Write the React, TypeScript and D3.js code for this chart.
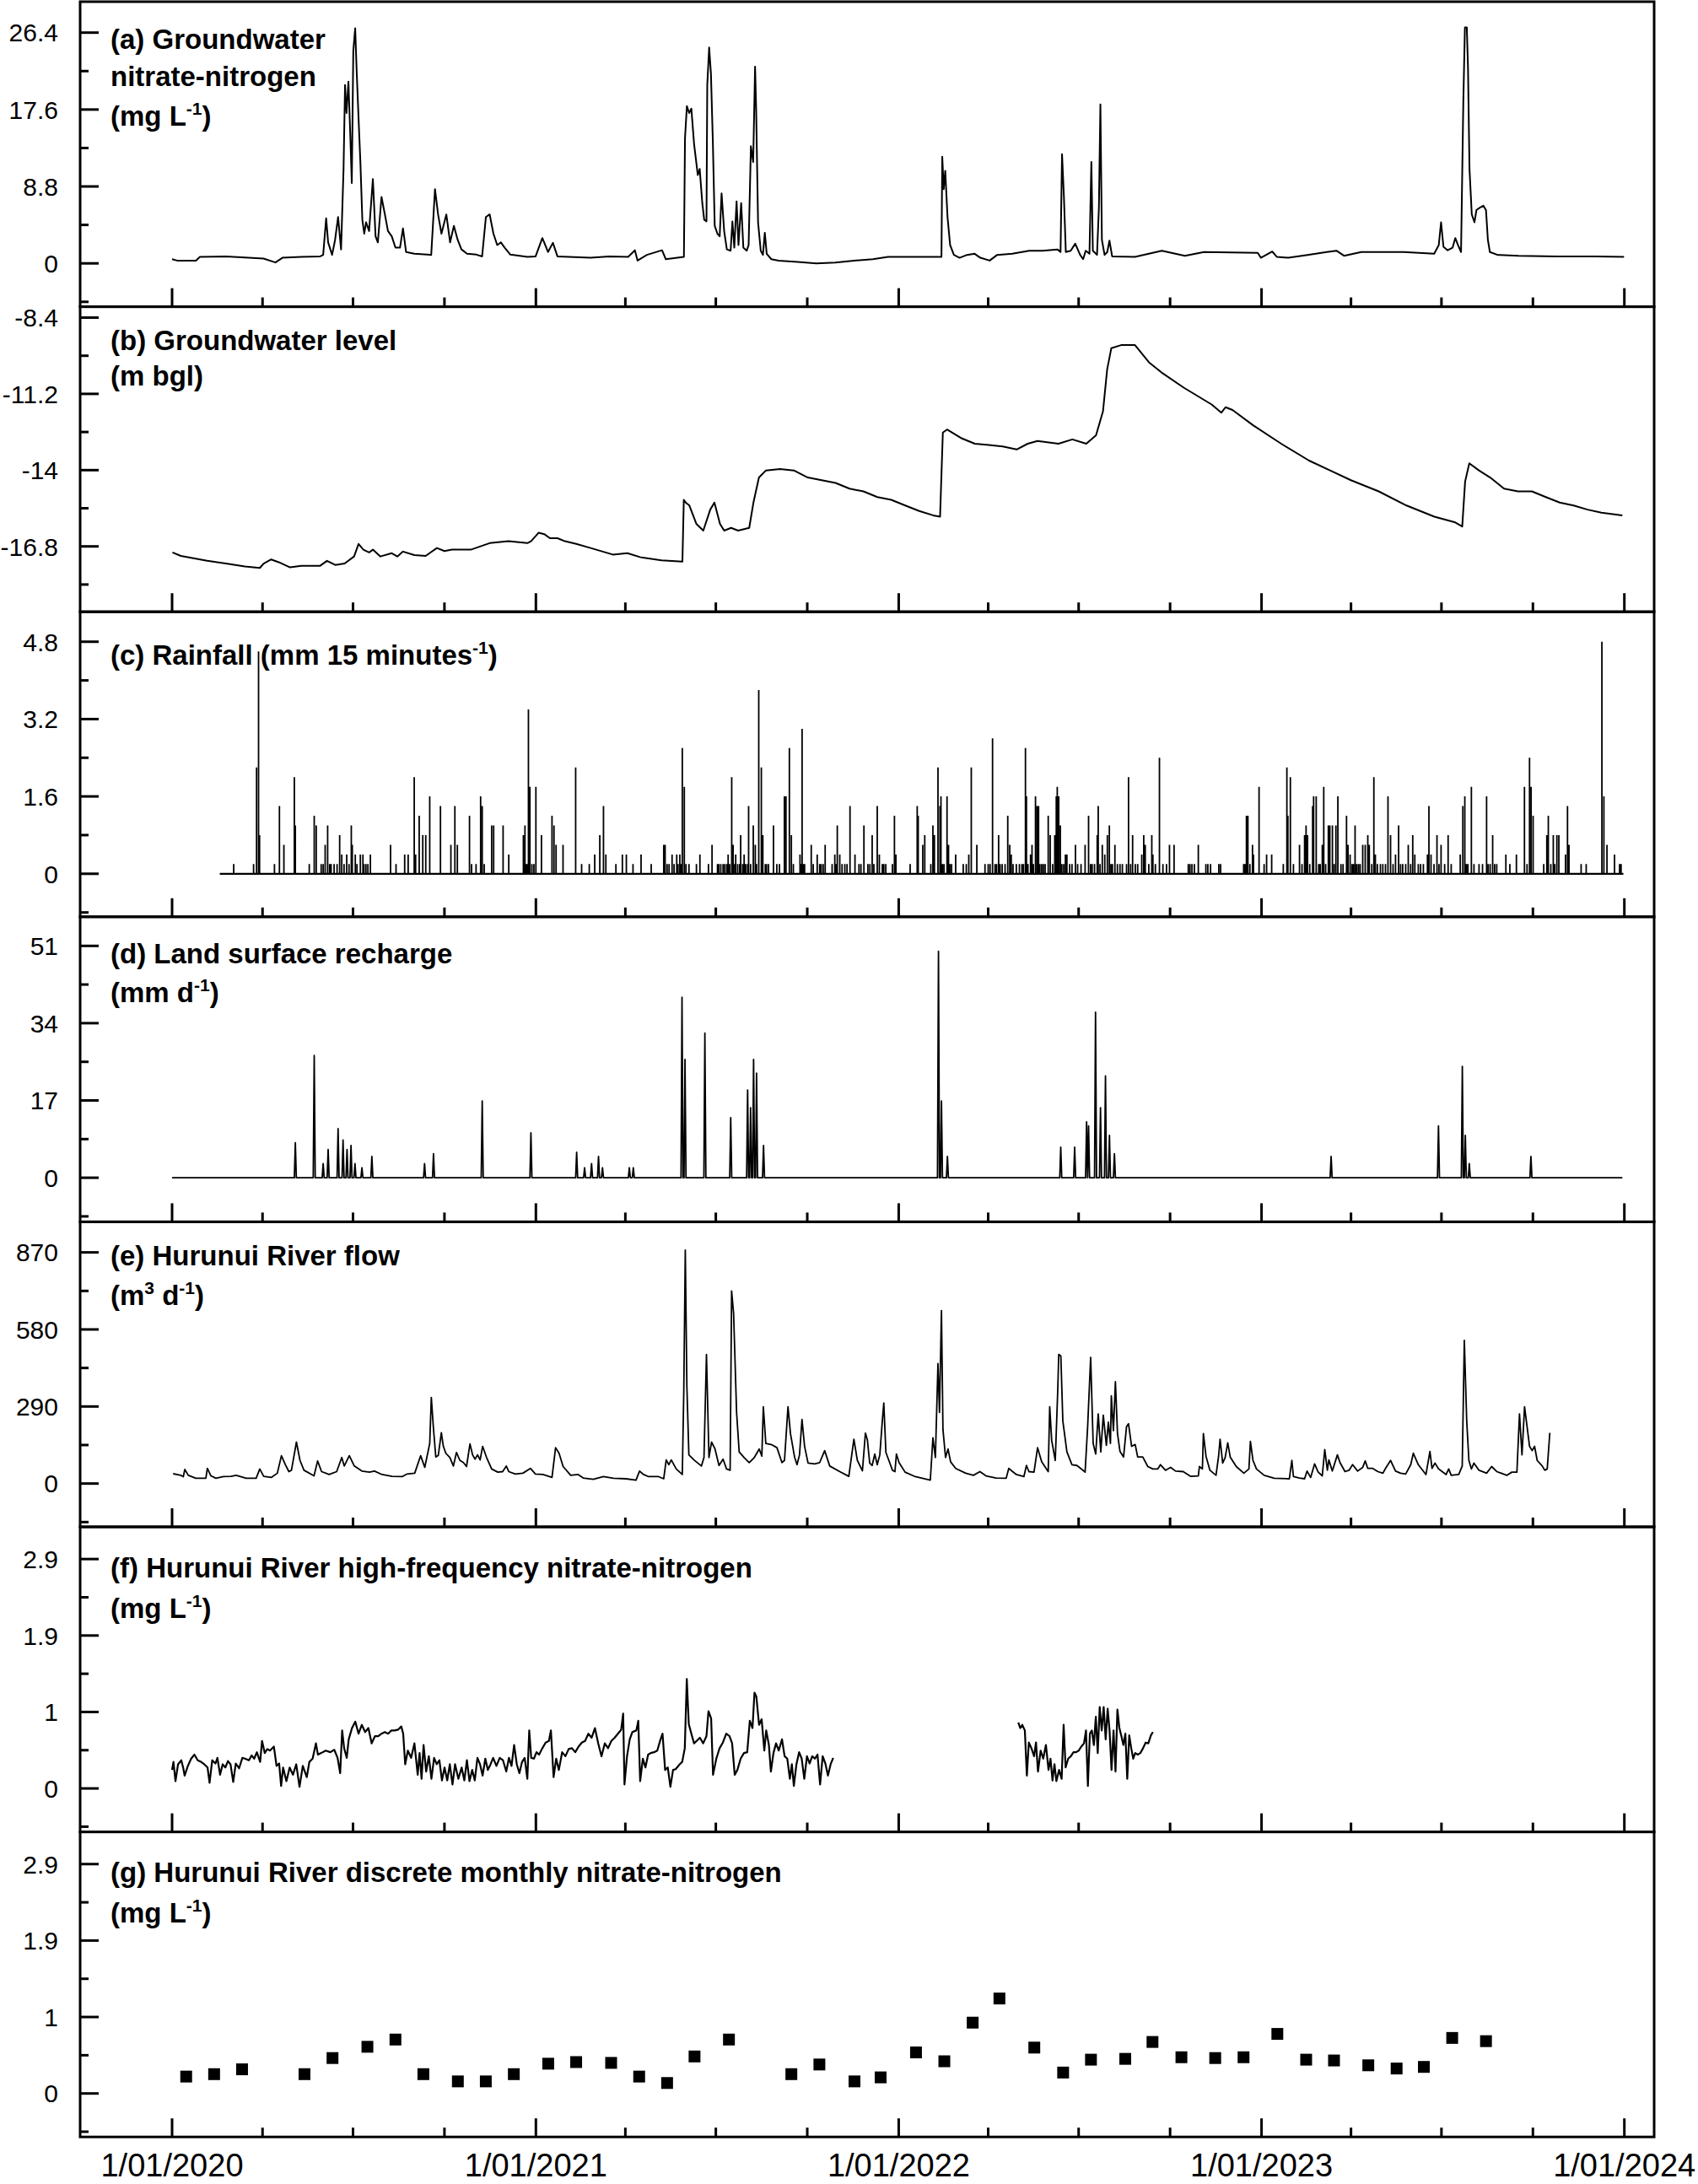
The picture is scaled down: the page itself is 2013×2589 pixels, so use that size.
import React from 'react';
import * as d3 from 'd3';

type P = [number, number];
const START = Date.UTC(2020, 0, 1);
const DAY = 86400000;
const dt = (d: number) => new Date(START + d * DAY);

// ---------------- tick labels ----------------
const xYears = [2020, 2021, 2022, 2023, 2024];
const xTickLabels = ['1/01/2020', '1/01/2021', '1/01/2022', '1/01/2023', '1/01/2024'];

const ticksA = [0, 8.8, 17.6, 26.4];
const labelsA = ['0', '8.8', '17.6', '26.4'];
const ticksB = [-16.8, -14, -11.2, -8.4];
const labelsB = ['-16.8', '-14', '-11.2', '-8.4'];
const ticksC = [0, 1.6, 3.2, 4.8];
const labelsC = ['0', '1.6', '3.2', '4.8'];
const ticksD = [0, 17, 34, 51];
const labelsD = ['0', '17', '34', '51'];
const ticksE = [0, 290, 580, 870];
const labelsE = ['0', '290', '580', '870'];
const ticksFG = [0, 0.95, 1.9, 2.85];
const labelsFG = ['0', '1', '1.9', '2.9'];

// ---------------- data: [days since 1/01/2020, value] ----------------
// (a) groundwater nitrate-nitrogen (mg/L)
const gwNitrate: P[] = [[0,0.48],[5,0.32],[24,0.32],[28,0.74],[54,0.8],[77,0.64],[92,0.55],[104,0.1],[111,0.64],[130,0.74],[149,0.8],[152,0.97],[155,5.15],[157,2.4],[161,0.97],[164,2.7],[167,5.3],[170,1.6],[172.5,10.8],[174,20.4],[175.5,17.2],[177.4,20.8],[179.3,14.6],[180.8,9.2],[182.3,24.3],[184.2,26.9],[185.7,22],[187.6,16.6],[189.5,11.4],[191.4,5],[193.3,3.4],[195.2,4.7],[198.2,3.7],[202,9.65],[204.7,3.1],[207,2.4],[210.7,7.6],[214.1,5.6],[217.2,3.7],[221,3.1],[224.7,1.8],[229.3,1.8],[232.3,4],[235.4,1.3],[243.7,1.1],[260.7,0.97],[264.5,8.5],[267.6,5.6],[271,3.4],[275.9,5.6],[279.7,2.4],[283.5,4.3],[287.3,2.7],[291.1,1.6],[296.7,1.1],[306.2,1],[311.9,0.8],[315.7,5.3],[319.5,5.6],[323.3,3.4],[327.1,2.1],[330.8,2.4],[334.6,1.8],[340.3,1],[357.4,0.74],[365.7,0.8],[372.5,2.9],[378.2,1.3],[383.1,2.35],[387.7,0.8],[421,0.64],[439.8,0.8],[458.8,0.74],[465.6,1.5],[468.3,0.32],[477.7,0.97],[492.9,1.5],[496.7,0.48],[514.9,0.74],[516,14.3],[517.9,18],[520.2,17.2],[522.4,17.7],[525.1,13.7],[528.9,10.1],[530.8,10.8],[533.4,6.9],[535.3,5],[537.6,4.8],[538.4,20.4],[540.3,24.7],[542.1,21.7],[544,14],[545.9,4.3],[548.6,3.4],[550.9,3.1],[552.8,8],[555.4,3.7],[558.1,1.6],[561.9,1.45],[563.7,4.8],[565.6,1.8],[567.9,7.1],[569.8,2.1],[572.5,6.9],[574.7,1.8],[578.1,1.45],[580,2.1],[582.3,13.4],[584.6,11.6],[586.5,22.5],[587.6,17.5],[589.5,4.7],[592.2,1.45],[594.4,0.97],[596.3,3.5],[598.2,1.1],[602.8,0.48],[610.3,0.32],[629.3,0.16],[648.2,0],[667.2,0.1],[686.1,0.32],[705.1,0.48],[720.2,0.74],[743,0.74],[774,0.74],[774.8,12.2],[776.3,8.5],[777.8,10.6],[780.1,5.3],[782.7,2.1],[786.5,0.97],[792.2,0.64],[799.8,0.97],[807.4,1.1],[813.1,0.64],[822.5,0.32],[830.1,0.97],[845.3,1.1],[862.3,1.45],[875.6,1.45],[890.7,1.6],[893.8,1.3],[895.3,12.5],[897.2,7.6],[899.1,1.3],[904,1.45],[908.6,2.25],[913.5,0.97],[916.5,0.48],[919.1,1.45],[922.9,1.1],[924.8,11.6],[926.3,1.45],[930.5,0.97],[932.4,6.4],[933.9,18.2],[935.4,2.7],[938.1,0.97],[940.8,1.3],[943,2.6],[945.7,0.8],[968.7,0.74],[995.7,1.45],[1018.9,0.87],[1038.2,1.3],[1092.2,1.2],[1095.3,0.64],[1106.8,1.35],[1111.5,0.74],[1123,0.64],[1142.3,0.97],[1161.6,1.3],[1171.3,1.45],[1179,0.87],[1196.4,1.3],[1238.8,1.3],[1269.7,1.1],[1274.3,2.1],[1276.6,4.7],[1279,1.9],[1283.2,1.5],[1288.2,1.8],[1290.9,2.9],[1293.6,2.1],[1296.7,1.3],[1299,18.5],[1300.6,27],[1302.5,27],[1303.7,22.4],[1305.2,10.8],[1307.5,5.6],[1310.2,4.7],[1312.2,6.1],[1316,6.4],[1319.1,6.6],[1321.8,6.1],[1323.7,2.7],[1325.7,1.3],[1333.4,0.97],[1354.6,0.87],[1393.2,0.8],[1431.8,0.8],[1460.7,0.74]];

// (b) groundwater level (m bgl)
const gwLevel: P[] = [[0.4,-17.02],[8.8,-17.15],[35.3,-17.33],[54.2,-17.43],[73.2,-17.54],[88.3,-17.59],[92.1,-17.43],[99.7,-17.28],[107.3,-17.38],[118.7,-17.57],[130,-17.51],[149,-17.51],[155.8,-17.33],[164.1,-17.48],[173.6,-17.43],[183.1,-17.17],[187.6,-16.71],[192.5,-16.92],[198.2,-17.02],[202,-16.92],[209.6,-17.17],[221,-17.05],[226.6,-17.17],[232.3,-16.99],[243.7,-17.12],[255.1,-17.15],[266.4,-16.86],[274,-16.97],[281.6,-16.92],[300.5,-16.92],[319.5,-16.68],[338.4,-16.61],[357.4,-16.68],[361.1,-16.61],[368.7,-16.3],[374.4,-16.35],[380.1,-16.5],[387.7,-16.5],[395.2,-16.61],[406.6,-16.71],[421,-16.86],[443.3,-17.1],[458,-17.05],[471.4,-17.2],[492.4,-17.31],[513.4,-17.36],[514.8,-15.09],[517,-15.2],[520.4,-15.3],[527.4,-15.97],[534.4,-16.22],[541.4,-15.45],[545.6,-15.19],[551.2,-15.97],[555.4,-16.22],[562.4,-16.12],[569.4,-16.22],[580.6,-16.12],[584.8,-15.2],[590.4,-14.27],[597.4,-14.01],[611.5,-13.96],[625.5,-14.01],[639.5,-14.27],[653.5,-14.37],[667.5,-14.47],[681.5,-14.68],[695.5,-14.78],[709.5,-14.99],[723.5,-15.09],[737.6,-15.3],[751.6,-15.5],[765.6,-15.66],[772.6,-15.71],[775.4,-12.62],[779.6,-12.51],[793.6,-12.82],[807.6,-13.03],[821.6,-13.08],[835.6,-13.13],[849.6,-13.24],[860.8,-13.03],[870.6,-12.93],[891.7,-13.03],[905.7,-12.87],[919.7,-13.03],[929.5,-12.72],[936.5,-11.84],[940.7,-10.3],[944.9,-9.52],[954.7,-9.41],[968.7,-9.41],[982.7,-10.04],[996.7,-10.45],[1017.7,-10.97],[1045.8,-11.59],[1055.6,-11.89],[1059.8,-11.69],[1066.8,-11.79],[1087.8,-12.36],[1115.8,-13.03],[1143.8,-13.65],[1164.9,-14.01],[1185.9,-14.37],[1213.9,-14.78],[1241.9,-15.3],[1269.9,-15.71],[1290.9,-15.92],[1297.9,-16.07],[1300.8,-14.42],[1305,-13.75],[1314.7,-14.01],[1326,-14.27],[1340,-14.68],[1354,-14.78],[1368,-14.78],[1382,-14.99],[1396,-15.19],[1410,-15.3],[1424,-15.45],[1438,-15.56],[1459,-15.66]];

// (c) rainfall (mm per 15 min)
const rainStart = 48;
const rainEnd = 1460;
const rainfall: P[] = [[62,0.2],[82,0.2],[85,2.2],[87,4.6],[88,0.8],[103,0.2],[108,1.4],[112.5,0.6],[123,2.0],[124,1.0],[138,0.2],[143,1.2],[145,1.0],[150,0.2],[152,0.2],[154,0.6],[156.5,1.0],[158.5,0.2],[160,0.2],[163,0.2],[166,0.2],[168.6,0.8],[170.7,0.4],[173,0.2],[175.7,0.4],[178,0.2],[180.3,1.0],[181.3,0.6],[184.3,0.4],[186,0.2],[189.4,0.4],[192,0.4],[193,0.2],[195,0.2],[197,0.2],[199.5,0.4],[219.8,0.6],[225.3,0.2],[234,0.4],[237.5,0.4],[243.6,2.0],[245,0.4],[248.6,1.2],[252.2,0.8],[255.2,0.8],[259.2,1.6],[270,1.4],[280.5,0.6],[284.5,1.4],[287,0.6],[299.2,1.2],[301.3,0.2],[305.8,0.2],[310.4,1.6],[312,1.4],[314,0.2],[321.5,1.0],[323.5,1.0],[333,1.0],[338.7,0.4],[353.4,0.8],[354,0.2],[355,1.0],[356,0.2],[357,0.2],[358.5,3.4],[359.5,0.2],[360,1.8],[362,0.2],[364,0.2],[366,1.8],[371.6,0.8],[382.2,1.2],[384.2,1.0],[386.3,0.6],[393.3,0.6],[406,2.2],[412,0.2],[419.7,0.2],[425.2,0.4],[430.3,0.8],[434,1.4],[436.4,0.4],[446.5,0.2],[453,0.4],[457,0.4],[463.7,0.2],[471.8,0.4],[482,0.2],[494.6,0.6],[496,0.6],[498,0.2],[500,0.2],[503,0.4],[505,0.2],[507.7,0.4],[509,0.2],[510.8,0.4],[512,0.2],[513.3,2.6],[515.3,1.8],[517,0.2],[520,0.2],[527.5,0.2],[531,0.4],[539.6,0.2],[543.2,0.6],[548.7,0.2],[550,0.2],[552,0.2],[554.3,0.2],[556,0.2],[558,0.2],[559.4,0.4],[561,0.2],[563,2.0],[564.4,0.6],[566,0.2],[567,0.4],[569,0.2],[571,0.2],[572,0.8],[574,0.2],[575.5,0.4],[577,0.2],[579,0.2],[580,1.4],[582,0.2],[584.7,1.0],[586.7,0.6],[588,0.2],[590.2,3.8],[592.8,2.2],[594.3,0.8],[596.8,0.2],[598,0.2],[600,0.2],[605,1.0],[608.4,0.2],[611,0.2],[616,1.6],[617.6,1.6],[621,2.6],[623,0.8],[625,0.2],[631.7,0.4],[632.5,0.2],[633.8,3.0],[635,0.2],[636.3,0.2],[643,0.6],[645,0.2],[649,0.4],[651.5,0.2],[653,0.2],[655,0.2],[657,0.6],[664,0.2],[666.7,0.4],[668,0.2],[669.2,1.0],[671.7,0.4],[674,0.2],[676.8,0.2],[679,0.2],[682,1.4],[687,0.4],[691,0.2],[693,0.2],[696,1.0],[700,0.2],[702,0.2],[704.3,0.8],[706,0.2],[709.4,1.4],[711.5,0.4],[714.5,0.2],[716,0.2],[718,0.2],[724.7,0.2],[726.7,1.2],[728.2,0.4],[742.5,0.2],[749.6,1.4],[750.6,1.2],[755.2,0.6],[757.2,0.8],[763.3,0.2],[765.4,1.0],[766.9,0.8],[770.5,2.2],[772.5,1.4],[773.5,1.6],[775,0.2],[776.6,0.2],[779.6,1.6],[781.1,0.6],[782.5,0.2],[784.2,0.2],[788.3,0.4],[795.9,0.2],[799,0.2],[801.5,0.4],[804,2.2],[809.6,0.6],[817.8,0.2],[821,0.2],[822.9,0.2],[825.4,2.8],[827.9,0.2],[829.5,0.2],[831.5,0.8],[833,0.2],[835.1,0.2],[838,0.2],[840.7,1.2],[842.7,0.6],[844.2,0.4],[846,0.2],[849.3,0.2],[852.4,0.2],[854.9,0.2],[856.5,0.2],[858.5,2.6],[859.5,1.6],[861,0.2],[863.6,0.4],[865.1,0.6],[866.5,0.2],[868.6,1.6],[870.2,1.4],[871.7,1.4],[873,0.2],[874.8,0.2],[876.5,0.2],[878.3,0.2],[881.4,1.2],[883.4,0.8],[885.9,0.2],[888,0.8],[889.5,1.6],[890.5,1.8],[892,1.6],[893.6,1.0],[895.1,0.2],[897,0.2],[898.7,0.4],[900.2,0.4],[903,0.2],[905.3,0.2],[908.8,0.6],[911,0.2],[914.4,0.2],[918.5,0.6],[922,1.2],[924,0.2],[925.6,0.2],[928,0.2],[930.7,0.8],[931.7,1.4],[933.5,0.2],[935.8,0.6],[938.3,0.4],[940.9,0.8],[942.9,1.0],[944.5,0.2],[946,0.2],[948.5,0.6],[951,0.2],[953.6,0.2],[956,0.2],[960.2,0.2],[962.2,2.0],[964.3,0.2],[966.3,0.8],[969,0.2],[971.4,0.2],[975.5,0.4],[977.5,0.8],[979,0.6],[982.6,0.2],[985.6,0.8],[986.7,0.4],[989.2,0.2],[993.3,2.4],[996.8,0.2],[1000.4,0.2],[1003.4,0.6],[1008,0.6],[1022.3,0.2],[1024,0.2],[1026,0.2],[1028.4,0.2],[1032.4,0.6],[1040,0.2],[1042,0.2],[1044.7,0.2],[1053,0.2],[1054.8,0.2],[1078,0.2],[1079.5,0.2],[1080.8,1.2],[1082.3,1.2],[1084.3,0.2],[1086.9,0.6],[1087.9,0.4],[1093.5,1.8],[1098.6,0.2],[1101.1,0.4],[1106.2,0.4],[1117.9,0.2],[1121.5,2.2],[1122.5,1.2],[1125,2.0],[1128.1,0.2],[1134.2,0.6],[1136.7,0.2],[1139.3,0.8],[1140.8,1.0],[1142.3,0.8],[1144.5,0.2],[1147.4,1.4],[1148.4,1.6],[1151,1.6],[1153.5,0.2],[1155,0.2],[1157.1,0.6],[1158.6,1.8],[1160.5,0.2],[1163.2,1.0],[1164.7,1.0],[1167.3,1.0],[1169,0.2],[1170.8,1.0],[1172.8,1.6],[1175.9,0.2],[1178,0.2],[1181.5,1.2],[1183,0.6],[1185.1,0.4],[1187,0.2],[1188.5,0.2],[1190.1,1.0],[1191.7,0.2],[1193.5,0.2],[1195.2,0.2],[1197.8,0.6],[1200.3,0.6],[1202.9,0.8],[1204.4,0.6],[1206.9,0.2],[1209,2.0],[1210.5,0.4],[1212.5,0.2],[1215.6,0.2],[1218,0.2],[1220.7,0.2],[1223.2,1.6],[1225.8,0.8],[1228.3,0.2],[1230.8,0.4],[1233.9,1.0],[1235.9,0.2],[1238,0.2],[1241,0.2],[1243.6,0.6],[1246,0.2],[1248.1,0.8],[1250.2,0.4],[1253.7,0.2],[1256,0.2],[1258.8,0.2],[1262.9,0.4],[1264.4,1.4],[1266.5,0.4],[1269.5,0.2],[1272.5,0.8],[1274.5,0.2],[1276.6,0.6],[1280.2,0.2],[1283.7,0.8],[1286.8,0.2],[1295.9,0.4],[1298.5,1.4],[1300.5,1.6],[1302,0.2],[1303.6,0.2],[1307.1,1.8],[1309.7,0.2],[1314.8,0.2],[1318.3,0.2],[1322.4,1.6],[1324,0.2],[1326,0.2],[1328.5,0.8],[1330.5,0.2],[1332.6,0.2],[1341.8,0.4],[1345.8,0.2],[1352.4,0.4],[1360.5,1.8],[1363.1,0.2],[1365.6,2.4],[1367.2,1.8],[1369.2,1.2],[1379.9,0.2],[1383,0.8],[1384.5,1.2],[1387,0.2],[1389.5,0.8],[1391,0.2],[1393.1,0.8],[1395.1,0.8],[1401.8,0.4],[1403.8,1.4],[1405.3,0.6],[1417.5,0.2],[1422.6,0.2],[1438.4,4.8],[1440.4,1.6],[1443.5,0.6],[1451.1,0.4],[1456.2,0.2],[1457.7,0.2]];

// (d) land surface recharge (mm/d): non-zero days
const rechargeStart = 0;
const rechargeEnd = 1459;
const recharge: P[] = [[124,7.7],[143,26.9],[152,3.1],[157,6.2],[167,10.8],[172,8.3],[176,6.2],[180,7.1],[184,3.1],[191,2.2],[201,4.7],[254,3.1],[263,5.3],[312,16.9],[361,9.9],[407,5.6],[415,2.2],[422,3.1],[429,4.7],[433,2.2],[460,2.2],[464,2.2],[513,39.7],[516,26],[536,31.8],[562,13.2],[579,19.3],[582,15.4],[585,26],[588,23],[595,7.1],[771,49.8],[774,16.9],[780,4.7],[894,6.7],[908,6.7],[920,12.3],[922,11.4],[929,36.4],[934,15.4],[939,22.4],[943,9.3],[948,5.3],[1166,4.7],[1274,11.4],[1298,24.5],[1301,9.3],[1305,3.1],[1367,4.7]];

// (e) Hurunui River flow
const riverFlow: P[] = [[1.1,37],[8.7,31],[11.3,26],[12.8,53],[16.3,31],[23.9,20],[34,20],[35.5,57],[39.1,29],[44.1,20],[51.7,26],[59.3,27],[64.4,31],[74.5,20],[84.6,20],[88.2,55],[92.2,27],[99.8,23],[105.9,39],[110,105],[114,71],[117.5,45],[120.1,50],[125.1,156],[128.7,87],[132.7,50],[142.8,29],[146.4,85],[150.4,45],[158,34],[165.6,45],[170.7,98],[173.2,66],[178.3,105],[183.3,66],[190.9,47],[198.5,43],[203.6,47],[211.2,34],[221.3,27],[231.4,26],[236.5,36],[244.1,39],[250.1,105],[254.2,61],[259.2,151],[260.8,324],[262.8,215],[265.3,100],[267.8,106],[270.9,191],[272.9,140],[275.4,114],[279.5,98],[283,66],[286.1,117],[289.6,87],[293.1,79],[296.2,64],[299.7,149],[302.3,108],[304.8,92],[307.3,108],[309.9,89],[312.4,140],[316.4,98],[321.5,55],[327.6,43],[332.6,45],[336.2,66],[338.7,45],[345.3,36],[352.9,39],[360.5,57],[365.5,36],[373.1,34],[382.2,23],[385.8,135],[389.3,114],[393.4,64],[401,31],[408.5,34],[413.6,21],[423.7,16],[433.9,26],[444,20],[456.6,18],[466.7,13],[470.3,47],[474.3,34],[479.4,26],[489.5,26],[494.6,18],[497.1,89],[499.7,71],[502.2,89],[507.2,55],[513.3,34],[514.8,353],[516.3,879],[517.9,364],[519.9,108],[525,89],[532.5,66],[535.1,98],[537.6,486],[540.1,98],[542.7,156],[546.2,130],[550.2,68],[554.3,92],[557.8,55],[561.4,50],[562.9,725],[564.9,640],[567.9,268],[570.5,119],[575.5,98],[580.6,79],[585.7,98],[590.7,130],[593.3,103],[594.8,289],[597.3,151],[603.4,146],[608.5,135],[613.5,79],[616.1,87],[619.6,289],[622.1,188],[626.2,100],[628.7,71],[631.2,108],[633.7,241],[636.3,140],[639.8,77],[646.4,74],[651.5,79],[656.5,124],[661.6,66],[671.7,45],[680.8,27],[685.9,167],[689.4,87],[694.5,48],[697.5,190],[699.5,164],[701.8,77],[704.3,68],[706.9,111],[709.4,71],[712,108],[714.5,236],[716,303],[718.1,117],[721.1,87],[724.7,50],[727.2,45],[728.7,111],[731.3,79],[737.4,43],[747.6,26],[762.8,13],[765.4,172],[767.9,98],[770.5,452],[772,268],[774,651],[775.5,204],[778.1,98],[780.6,130],[783.2,82],[788.3,57],[798.4,39],[806.1,31],[812.7,45],[818.8,29],[829,21],[839.1,20],[841.7,57],[849.3,34],[856.9,26],[859.5,68],[862,45],[867.1,43],[870.7,135],[874.8,82],[881.4,45],[882.9,289],[884.9,162],[888.5,87],[891,353],[892,486],[894.1,480],[896.1,236],[900.2,119],[905.3,71],[910.3,68],[915.4,53],[918.5,43],[921,209],[924.1,475],[926.6,151],[929.2,111],[931.7,262],[934.3,119],[936.8,257],[939.9,144],[941.9,231],[944,151],[944.9,330],[947,199],[949,383],[951.1,188],[953.6,121],[957.2,100],[960.2,215],[962.2,225],[965.3,140],[968.9,147],[971.4,100],[976.5,100],[981.6,64],[986.7,55],[991.7,55],[994.3,71],[999.4,50],[1004.5,61],[1009.5,47],[1017.2,45],[1024.8,27],[1032.4,29],[1033.5,64],[1036.5,55],[1037.5,188],[1040.1,103],[1044.1,50],[1050.2,31],[1052.8,103],[1054.3,167],[1056.9,77],[1059.4,98],[1062,153],[1064.5,100],[1070.6,64],[1078.2,39],[1083.3,55],[1084.8,159],[1087.4,87],[1090.9,55],[1098.6,31],[1108.8,20],[1124,18],[1126.5,87],[1128.1,26],[1134.2,21],[1139.3,18],[1141.8,47],[1145.4,23],[1149.4,74],[1153,43],[1157.1,29],[1159.6,128],[1162.2,50],[1163.7,89],[1167.2,47],[1172.3,108],[1174.9,79],[1180,45],[1184,50],[1187.6,71],[1192.7,47],[1197.8,61],[1200.3,85],[1202.9,57],[1207.9,57],[1213,45],[1218.1,39],[1220.7,57],[1225.8,87],[1230.8,47],[1235.9,39],[1241,36],[1246.1,71],[1248.7,114],[1253.7,71],[1261.4,34],[1265.4,121],[1267.5,57],[1270.5,77],[1274.1,55],[1281.7,34],[1284.3,55],[1286.8,31],[1294.4,34],[1297.9,66],[1300,539],[1302.4,236],[1304.6,87],[1307.1,55],[1309.7,77],[1314.8,50],[1322.4,39],[1327.5,64],[1332.6,45],[1342.7,31],[1347.8,43],[1352.9,43],[1355.5,262],[1358,108],[1360.6,289],[1363.1,215],[1365.6,140],[1368.2,124],[1370.7,140],[1373.3,87],[1378.4,66],[1380.9,50],[1383.4,55],[1386,191]];

// (f) high-frequency river nitrate-nitrogen, two logging periods
const riverNitrate1: P[] = [[0,0.23],[1.4,0.33],[3.4,0.09],[6,0.3],[9.3,0.35],[11.3,0.25],[12.6,0.16],[15.9,0.28],[19.2,0.37],[22.5,0.42],[25.8,0.35],[29.1,0.33],[32.4,0.3],[35.7,0.26],[37.7,0.07],[40.4,0.35],[43.7,0.31],[45.6,0.38],[48.3,0.17],[50.9,0.3],[53.6,0.26],[56.2,0.34],[58.8,0.3],[61.5,0.08],[64.1,0.31],[67.4,0.25],[70.7,0.38],[73.4,0.37],[77.3,0.35],[80,0.41],[82.6,0.37],[85.3,0.45],[88.6,0.33],[90.5,0.59],[93.2,0.44],[95.8,0.49],[98.5,0.47],[102.4,0.52],[105.1,0.28],[107.7,0.31],[109.7,0.03],[111.7,0.26],[115,0.09],[118.3,0.26],[121.6,0.17],[124.9,0.3],[128.2,0.02],[131.5,0.28],[135.5,0.14],[138.1,0.33],[141.4,0.37],[144.7,0.56],[146.7,0.42],[150,0.44],[154.6,0.47],[159.2,0.45],[163.2,0.48],[166.5,0.38],[169.1,0.19],[171.1,0.72],[173.1,0.5],[175.7,0.38],[177.7,0.61],[181,0.75],[184.3,0.83],[187.6,0.68],[190.9,0.79],[194.2,0.7],[197.5,0.75],[200.8,0.56],[204.1,0.65],[207.4,0.65],[210.7,0.68],[214,0.7],[217.3,0.68],[220.6,0.72],[223.9,0.72],[227.3,0.73],[230.6,0.77],[232.5,0.68],[234.5,0.3],[237.2,0.47],[240.5,0.38],[243.8,0.56],[247.1,0.17],[249,0.44],[251,0.12],[253,0.54],[255.6,0.21],[258.3,0.4],[260.9,0.12],[263.6,0.38],[266.2,0.3],[268.9,0.35],[271.5,0.1],[274.1,0.26],[276.8,0.1],[279.4,0.3],[282.1,0.05],[284.7,0.3],[288,0.12],[291.3,0.26],[294,0.1],[296.6,0.35],[299.2,0.09],[301.9,0.23],[304.5,0.1],[307.2,0.38],[309.8,0.3],[312.4,0.16],[315.1,0.37],[317.7,0.23],[320.4,0.3],[323,0.38],[326.3,0.28],[329.6,0.38],[332.9,0.35],[336.2,0.21],[338.9,0.38],[341.5,0.28],[344.1,0.54],[346.8,0.3],[349.4,0.19],[352.1,0.33],[354.7,0.38],[357.4,0.12],[359.3,0.72],[361.3,0.38],[364,0.37],[366.6,0.45],[369.2,0.42],[372.5,0.5],[375.8,0.57],[379.1,0.59],[381.1,0.72],[383.8,0.14],[386.4,0.37],[389.1,0.23],[392.4,0.45],[395.7,0.4],[399,0.49],[402.3,0.5],[405.6,0.45],[408.9,0.52],[412.2,0.57],[415.5,0.59],[418.8,0.68],[422.1,0.63],[425.4,0.75],[428.7,0.56],[432,0.4],[435.3,0.56],[438.6,0.5],[441.9,0.59],[445.2,0.63],[448.5,0.68],[451.8,0.73],[453.8,0.93],[455.1,0.05],[457.7,0.4],[460.4,0.61],[463,0.7],[467,0.72],[469,0.84],[470.9,0.09],[473.6,0.37],[476.2,0.26],[478.9,0.42],[481.5,0.44],[484.8,0.45],[488.1,0.47],[491.4,0.61],[493.4,0.68],[496,0.23],[498.7,0.26],[501.3,0.02],[504,0.23],[506.6,0.24],[510.6,0.3],[513.2,0.33],[515.8,0.5],[517.8,1.36],[519.8,0.8],[522.4,0.68],[525.1,0.56],[527.7,0.59],[531,0.63],[534.3,0.56],[537.6,0.65],[539.6,0.96],[542.3,0.87],[544.2,0.17],[547.5,0.37],[550.8,0.5],[554.1,0.57],[557.5,0.68],[560.8,0.65],[563.4,0.56],[566,0.17],[568.7,0.23],[572,0.37],[575.3,0.44],[578.6,0.45],[581.2,0.84],[583.9,0.75],[585.9,1.19],[587.8,1.14],[590.5,0.79],[593.1,0.86],[595.8,0.47],[597.7,0.72],[600.4,0.54],[602.4,0.21],[605,0.44],[607.6,0.56],[610.3,0.47],[613.6,0.61],[616.2,0.4],[618.9,0.37],[621.5,0.12],[623.5,0.3],[625.5,0.03],[628.1,0.3],[630.8,0.45],[633.4,0.37],[636,0.12],[638.7,0.4],[641.3,0.31],[644,0.4],[646.6,0.37],[649.3,0.42],[651.9,0.05],[654.5,0.4],[657.2,0.31],[659.8,0.16],[662.5,0.3],[665.1,0.38]];
const riverNitrate2: P[] = [[851.3,0.82],[853.3,0.75],[855.3,0.79],[857.9,0.72],[859.9,0.16],[861.9,0.57],[864.5,0.5],[867.2,0.4],[869.1,0.57],[871.1,0.21],[873.8,0.47],[876.4,0.37],[879.1,0.54],[881.7,0.23],[883.7,0.37],[885.7,0.1],[887.7,0.3],[889.6,0.09],[892.3,0.23],[894.9,0.12],[896.9,0.79],[898.9,0.26],[901.5,0.37],[904.2,0.4],[906.8,0.45],[909.4,0.45],[912.1,0.47],[914.7,0.52],[917.4,0.56],[919.4,0.72],[921.3,0.03],[923.3,0.68],[925.3,0.72],[927.3,0.54],[929.3,0.89],[931.2,0.44],[933.2,1.01],[935.2,0.72],[937.2,1.01],[939.2,0.61],[941.2,0.99],[943.1,0.72],[945.1,0.23],[947.1,0.72],[949.1,0.21],[951,0.98],[953,0.75],[955,0.65],[957,0.54],[959,0.68],[960.9,0.12],[962.9,0.66],[964.9,0.5],[966.9,0.37],[968.9,0.44],[971.5,0.42],[974.1,0.44],[976.8,0.5],[979.4,0.57],[982.1,0.56],[984.7,0.66],[986.7,0.7]];

// (g) discrete monthly river nitrate-nitrogen
const monthlyNitrate: P[] = [[14.2,0.21],[42.3,0.24],[70.4,0.3],[133.2,0.24],[161.4,0.44],[196.5,0.58],[224.7,0.67],[252.8,0.24],[287.5,0.15],[315.6,0.15],[343.8,0.24],[378.4,0.37],[406.5,0.39],[441.7,0.38],[469.9,0.21],[498,0.13],[525.6,0.46],[560.2,0.67],[623,0.24],[651.2,0.36],[686.5,0.15],[712.8,0.2],[748.4,0.51],[776.9,0.4],[805.4,0.88],[832.3,1.18],[867.4,0.57],[896.4,0.26],[924.4,0.42],[958.9,0.43],[986.3,0.64],[1015.4,0.45],[1049.4,0.44],[1077.9,0.45],[1111.9,0.74],[1140.9,0.42],[1168.9,0.41],[1203.4,0.35],[1231.9,0.31],[1259.3,0.33],[1287.8,0.69],[1321.8,0.65]];

// ---------------- layout ----------------
const W = 2013, H = 2589;
const LEFT = 95, RIGHT = 1961, TOP0 = 2, PH = 361.6;
const FONT = "Arial, 'Liberation Sans', Helvetica, sans-serif";

const x = d3.scaleUtc()
  .domain([new Date(Date.UTC(2020, 0, 1)), new Date(Date.UTC(2024, 0, 1))])
  .range([204, 1925.7]);
const majorDates = xYears.map((y) => new Date(Date.UTC(y, 0, 1)));
const minorDates = d3.utcMonth.every(3)!
  .range(new Date(Date.UTC(2020, 0, 1)), new Date(Date.UTC(2024, 0, 1)))
  .filter((d) => d.getUTCMonth() !== 0);

type Seg = [string, boolean];
interface PanelCfg {
  key: string;
  domain: [number, number];
  ticks: number[];
  labels: string[];
  title: Seg[][];
  titleY: number[];
}

const panels: PanelCfg[] = [
  { key: 'a', domain: [-4.96, 29.94], ticks: ticksA, labels: labelsA,
    title: [[['(a) Groundwater', false]], [['nitrate-nitrogen', false]], [['(mg L', false], ['-1', true], [')', false]]],
    titleY: [56, 100, 147] },
  { key: 'b', domain: [-19.2, -8.0], ticks: ticksB, labels: labelsB,
    title: [[['(b) Groundwater level', false]], [['(m bgl)', false]]], titleY: [51, 93] },
  { key: 'c', domain: [-0.89, 5.42], ticks: ticksC, labels: labelsC,
    title: [[['(c) Rainfall (mm 15 minutes', false], ['-1', true], [')', false]]], titleY: [63] },
  { key: 'd', domain: [-9.7, 57.4], ticks: ticksD, labels: labelsD,
    title: [[['(d) Land surface recharge', false]], [['(mm d', false], ['-1', true], [')', false]]], titleY: [55, 101] },
  { key: 'e', domain: [-163, 985], ticks: ticksE, labels: labelsE,
    title: [[['(e) Hurunui River flow', false]], [['(m', false], ['3', true], [' d', false], ['-1', true], [')', false]]], titleY: [52, 99] },
  { key: 'f', domain: [-0.54, 3.25], ticks: ticksFG, labels: labelsFG,
    title: [[['(f) Hurunui River high-frequency nitrate-nitrogen', false]], [['(mg L', false], ['-1', true], [')', false]]], titleY: [60, 108] },
  { key: 'g', domain: [-0.54, 3.25], ticks: ticksFG, labels: labelsFG,
    title: [[['(g) Hurunui River discrete monthly nitrate-nitrogen', false]], [['(mg L', false], ['-1', true], [')', false]]], titleY: [59, 107] },
];

function Title({ lines, ys, top }: { lines: Seg[][]; ys: number[]; top: number }) {
  return (
    <g>
      {lines.map((segs, i) => (
        <text key={i} x={131} y={top + ys[i]} fontFamily={FONT} fontWeight="bold" fontSize={33}
          fill="#000" style={{ whiteSpace: 'pre' }}>
          {segs.map(([t, sup], j) => {
            const prevSup = j > 0 && segs[j - 1][1];
            const dy = sup ? (prevSup ? 0 : -13) : prevSup ? 13 : 0;
            return (
              <tspan key={j} fontSize={sup ? 21 : 33} dy={dy}>{t}</tspan>
            );
          })}
        </text>
      ))}
    </g>
  );
}

function Panel({ cfg, idx }: { cfg: PanelCfg; idx: number }) {
  const top = TOP0 + idx * PH;
  const bottom = top + PH;
  const y = d3.scaleLinear().domain(cfg.domain).range([bottom, top]);
  const step = cfg.ticks[1] - cfg.ticks[0];
  const minors = d3.range(-6, 12)
    .map((k) => cfg.ticks[0] + (k + 0.5) * step)
    .filter((v) => v > cfg.domain[0] && v < cfg.domain[1]);
  const line = d3.line<P>().x((d) => x(dt(d[0]))).y((d) => y(d[1]));

  let content: React.ReactNode = null;
  const lineStyle = { fill: 'none', stroke: '#000', strokeWidth: 2, strokeLinejoin: 'round' as const };
  if (cfg.key === 'a') {
    content = <path d={line(gwNitrate) || ''} style={lineStyle} />;
  } else if (cfg.key === 'b') {
    content = <path d={line(gwLevel) || ''} style={lineStyle} />;
  } else if (cfg.key === 'c') {
    const y0 = y(0);
    const bars = rainfall.map((d) => `M${x(dt(d[0])).toFixed(2)},${y0.toFixed(2)}V${y(d[1]).toFixed(2)}`).join('');
    content = (
      <g>
        <line x1={x(dt(rainStart))} x2={x(dt(rainEnd))} y1={y0} y2={y0} stroke="#000" strokeWidth={2.2} />
        <path d={bars} stroke="#000" strokeWidth={1.8} fill="none" />
      </g>
    );
  } else if (cfg.key === 'd') {
    const daily: P[] = d3.range(rechargeStart, rechargeEnd + 1).map((dd) => [dd, 0] as P);
    recharge.forEach(([dd, v]) => {
      const i = Math.round(dd) - rechargeStart;
      if (i >= 0 && i < daily.length) daily[i] = [daily[i][0], Math.max(daily[i][1], v)];
    });
    content = <path d={line(daily) || ''} style={{ ...lineStyle, strokeWidth: 1.8 }} />;
  } else if (cfg.key === 'e') {
    content = <path d={line(riverFlow) || ''} style={{ ...lineStyle, strokeWidth: 1.8 }} />;
  } else if (cfg.key === 'f') {
    content = (
      <g>
        <path d={line(riverNitrate1) || ''} style={{ ...lineStyle, strokeWidth: 2.2 }} />
        <path d={line(riverNitrate2) || ''} style={{ ...lineStyle, strokeWidth: 2.2 }} />
      </g>
    );
  } else if (cfg.key === 'g') {
    const s = 14;
    content = (
      <g>
        {monthlyNitrate.map((d, i) => (
          <rect key={i} x={x(dt(d[0])) - s / 2} y={y(d[1]) - s / 2} width={s} height={s} fill="#000" />
        ))}
      </g>
    );
  }

  return (
    <g>
      {content}
      <Title lines={cfg.title} ys={cfg.titleY} top={top} />
      {cfg.ticks.map((v, i) => (
        <g key={'yt' + i}>
          <line x1={LEFT} x2={LEFT + 22} y1={y(v)} y2={y(v)} stroke="#000" strokeWidth={3} />
          <text x={69} y={y(v)} dy="0.36em" textAnchor="end" fontFamily={FONT} fontSize={30} fill="#000">
            {cfg.labels[i]}
          </text>
        </g>
      ))}
      {minors.map((v, i) => (
        <line key={'ym' + i} x1={LEFT} x2={LEFT + 10} y1={y(v)} y2={y(v)} stroke="#000" strokeWidth={3} />
      ))}
      {majorDates.map((d, i) => (
        <line key={'xt' + i} x1={x(d)} x2={x(d)} y1={bottom} y2={bottom - 22} stroke="#000" strokeWidth={3} />
      ))}
      {minorDates.map((d, i) => (
        <line key={'xm' + i} x1={x(d)} x2={x(d)} y1={bottom} y2={bottom - 11} stroke="#000" strokeWidth={3} />
      ))}
      <rect x={LEFT} y={top} width={RIGHT - LEFT} height={PH} fill="none" stroke="#000" strokeWidth={3} />
    </g>
  );
}

export default function App() {
  const bottom = TOP0 + panels.length * PH;
  return (
    <svg width={W} height={H} viewBox={`0 0 ${W} ${H}`}
      style={{ position: 'absolute', left: 0, top: 0, background: '#fff' }}>
      <rect x={0} y={0} width={W} height={H} fill="#fff" />
      {panels.map((p, i) => <Panel key={p.key} cfg={p} idx={i} />)}
      {majorDates.map((d, i) => (
        <text key={i} x={x(d)} y={bottom + 47} textAnchor="middle" fontFamily={FONT} fontSize={38} fill="#000">
          {xTickLabels[i]}
        </text>
      ))}
    </svg>
  );
}
